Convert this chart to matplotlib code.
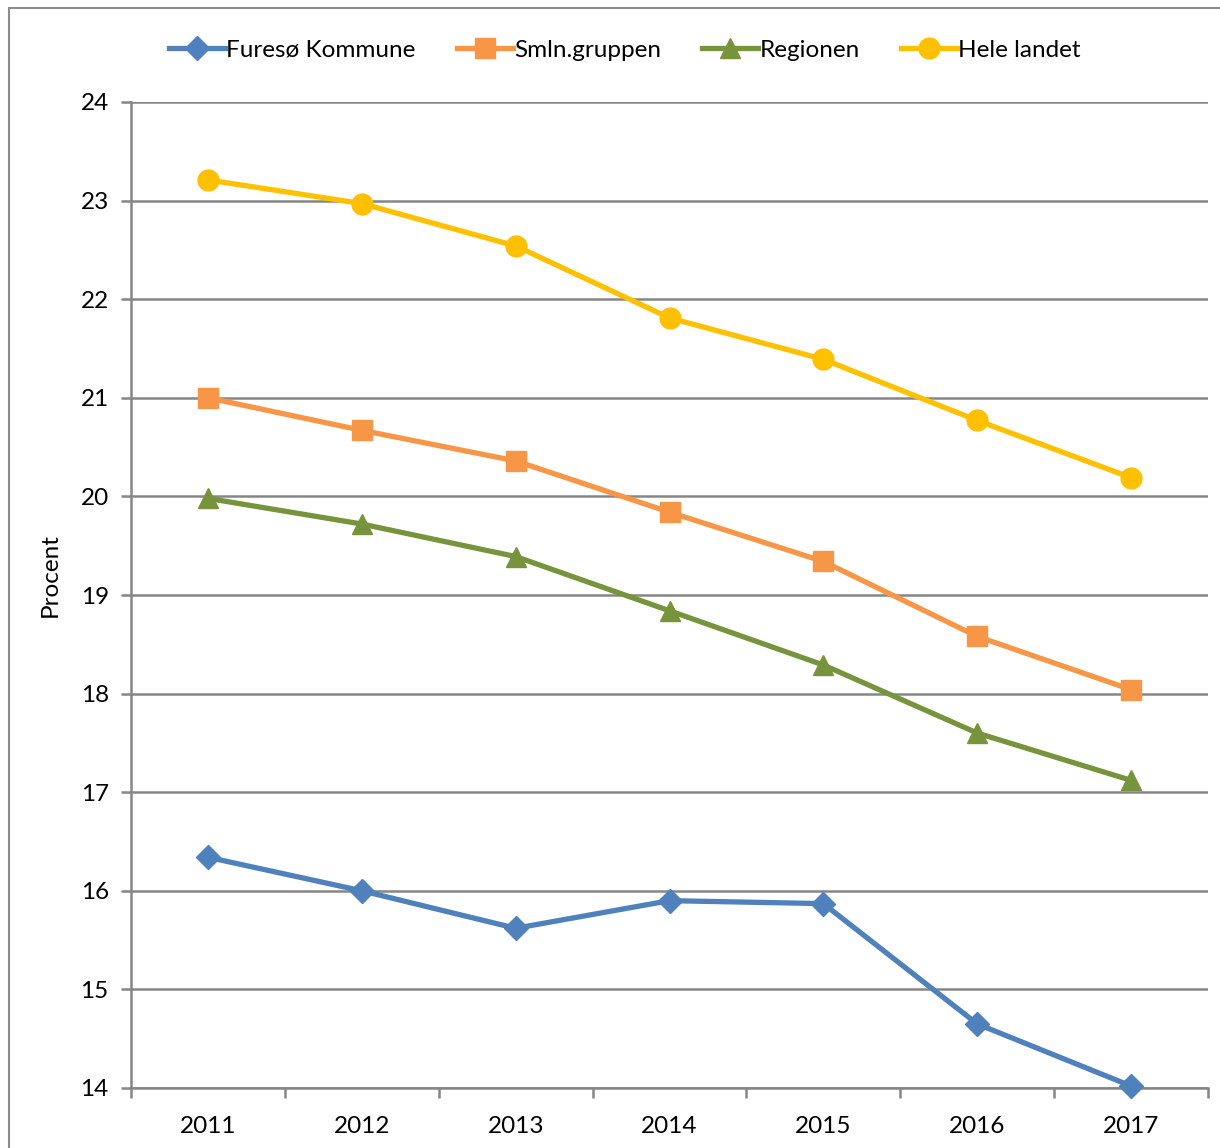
import matplotlib.pyplot as plt
from matplotlib.patches import Rectangle
from matplotlib.lines import Line2D

plt.rcParams['font.family'] = ['Lato', 'DejaVu Sans']

years = ['2011', '2012', '2013', '2014', '2015', '2016', '2017']
fureso = [16.34, 16.00, 15.62, 15.90, 15.87, 14.65, 14.02]
smln = [21.00, 20.67, 20.36, 19.84, 19.34, 18.58, 18.04]
regionen = [19.98, 19.72, 19.39, 18.84, 18.29, 17.60, 17.12]
hele = [23.21, 22.97, 22.54, 21.81, 21.39, 20.77, 20.19]

series = [
    ('Furesø Kommune', fureso, '#4F81BD', 'D', 12),
    ('Smln.gruppen', smln, '#F79646', 's', 14),
    ('Regionen', regionen, '#77933C', '^', 14),
    ('Hele landet', hele, '#FFC000', 'o', 15),
]

fig = plt.figure(figsize=(12.2, 11.48), dpi=100)
ax = fig.add_axes([131 / 1220, 1 - 1088 / 1148, (1208 - 131) / 1220, (1088 - 102) / 1148])

# chart area border (cropped at right and bottom)
fig.patches.append(Rectangle((9 / 1220, -0.1), 1.2, 1 - 8 / 1148 + 0.1,
                             transform=fig.transFigure, fill=False,
                             edgecolor='#8c8c8c', linewidth=1.5))

x = list(range(len(years)))
for name, vals, col, mk, ms in series:
    ax.plot(x, vals, color=col, marker=mk, markersize=ms, linewidth=3.8,
            label=name, clip_on=False, zorder=3)

ax.set_xlim(-0.5, len(years) - 0.5)
ax.set_ylim(14, 24)
ax.set_yticks(range(14, 25))
ax.grid(axis='y', color='#868686', linewidth=1.8)
ax.set_axisbelow(True)

ax.set_xticks([i - 0.5 for i in range(len(years) + 1)])
ax.set_xticklabels([])
ax.set_xticks(x, minor=True)
ax.set_xticklabels(years, minor=True)
ax.tick_params(axis='x', which='minor', length=0, pad=20, labelsize=17.5)
ax.tick_params(axis='x', which='major', length=7, width=1.8, color='#868686')
ax.tick_params(axis='y', length=7, width=1.8, color='#868686', labelsize=17.5, pad=9)

for s in ['top', 'right']:
    ax.spines[s].set_visible(False)
for s in ['left', 'bottom']:
    ax.spines[s].set_color('#868686')
    ax.spines[s].set_linewidth(1.8)

ax.set_ylabel('Procent', fontsize=17.5, va='center')
ax.yaxis.set_label_coords(-0.075, 0.52)

handles = [Line2D([], [], color=c, marker=m, markersize=ms, linewidth=3.8)
           for _, _, c, m, ms in series]
fig.legend(handles, [s[0] for s in series], loc='center',
           bbox_to_anchor=(625 / 1220, 1 - 50 / 1148), ncol=4, frameon=False,
           fontsize=17.5, handlelength=2.3, handletextpad=0.05, columnspacing=1.7)

fig.savefig('out.png', dpi=100)
